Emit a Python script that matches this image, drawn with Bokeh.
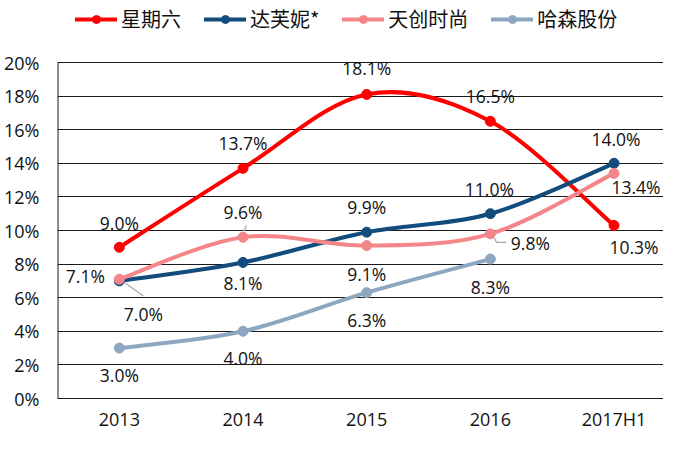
from bokeh.plotting import figure
from bokeh.models import ColumnDataSource, FixedTicker, PrintfTickFormatter, Legend, LegendItem
from bokeh.core.properties import value
from bokeh.embed import file_html
from bokeh.resources import INLINE

# ---- data ----
categories = ["2013", "2014", "2015", "2016", "2017H1"]
series_names = ["星期六", "达芙妮*", "天创时尚", "哈森股份"]
xingqiliu = [9.0, 13.7, 18.1, 16.5, 10.3]
dafuni = [7.0, 8.1, 9.9, 11.0, 14.0]
tianchuang = [7.1, 9.6, 9.1, 9.8, 13.4]
hasen = [3.0, 4.0, 6.3, 8.3]
y_ticks = [0, 2, 4, 6, 8, 10, 12, 14, 16, 18, 20]
y_max = 20

# ---- style / layout ----
colors = ["#FF0000", "#124C7C", "#F4868A", "#8CA7BF"]
# label offsets in screen pixels (dx, dy; dy positive = down)
label_offsets = [
    [(0, -24), (0, -25), (0, -26), (0, -25), (20, 22)],
    [(24, 33), (0, 21), (0, -25), (-1, -25), (2, -24)],
    [(-34, -3), (0, -25), (0, 28), (40, 9), (22, 14)],
    [(0, 27), (0, 27), (0, 27), (0, 28)],
]
W, H = 663, 433
LEFT, BOTTOM = 57, 35
FRAME_H = H - BOTTOM            # frame reaches the top of the canvas (legend inside)
TOP_GRID = 62                   # pixel row of the 20% line
PX_Y = (FRAME_H - TOP_GRID) / y_max
X_END = 4.4
PX_X = (W - LEFT) / (X_END + 0.5)
TXT = "#111111"
FONT = "Open Sans"
AX = "#1a1a1a"

p = figure(width=W, height=H, x_range=(-0.5, X_END),
           y_range=(0, FRAME_H / PX_Y),
           output_backend="svg", toolbar_location=None,
           min_border_left=LEFT, min_border_right=0, min_border_top=0,
           min_border_bottom=BOTTOM)
p.outline_line_color = None
p.xgrid.visible = False
p.ygrid.ticker = FixedTicker(ticks=y_ticks)
p.ygrid.grid_line_color = AX
p.ygrid.grid_line_width = 1

p.yaxis.ticker = FixedTicker(ticks=y_ticks)
p.yaxis.formatter = PrintfTickFormatter(format="%d%%")
p.xaxis.ticker = FixedTicker(ticks=list(range(len(categories))))
p.xaxis.major_label_overrides = {i: c for i, c in enumerate(categories)}
for ax in (p.xaxis[0], p.yaxis[0]):
    ax.major_tick_line_color = None
    ax.minor_tick_line_color = None
    ax.major_tick_out = 0
    ax.major_tick_in = 0
    ax.minor_tick_out = 0
    ax.major_label_text_font = FONT
    ax.major_label_text_font_size = "18px"
    ax.major_label_text_color = TXT
p.xaxis.axis_line_color = AX
p.yaxis.axis_line_color = None
p.yaxis.major_label_standoff = 18
p.xaxis.major_label_standoff = 8

# left frame edge, only from 0% to 20%
p.segment(x0=[-0.5], y0=[0], x1=[-0.5], y1=[y_max], line_color=AX, line_width=2)


def bezier_source(ys):
    n = len(ys)
    xs = list(range(n))
    d = dict(x0=[], y0=[], x1=[], y1=[], cx0=[], cy0=[], cx1=[], cy1=[])
    for i in range(n - 1):
        a = i - 1 if i > 0 else i
        b = i + 2 if i + 2 < n else i + 1
        d["x0"].append(xs[i]); d["y0"].append(ys[i])
        d["x1"].append(xs[i + 1]); d["y1"].append(ys[i + 1])
        d["cx0"].append(xs[i] + (xs[i + 1] - xs[a]) / 6.0)
        d["cy0"].append(ys[i] + (ys[i + 1] - ys[a]) / 6.0)
        d["cx1"].append(xs[i + 1] - (xs[b] - xs[i]) / 6.0)
        d["cy1"].append(ys[i + 1] - (ys[b] - ys[i]) / 6.0)
    return ColumnDataSource(d)


all_series = [xingqiliu, dafuni, tianchuang, hasen]
items = []
for name, ys, col in zip(series_names, all_series, colors):
    src = bezier_source(ys)
    r1 = p.bezier(x0="x0", y0="y0", x1="x1", y1="y1", cx0="cx0", cy0="cy0",
                  cx1="cx1", cy1="cy1", source=src, line_color=col, line_width=4,
                  line_cap="round")
    r2 = p.scatter(x=list(range(len(ys))), y=ys, size=10, marker="circle",
                   fill_color=col, line_color=col)
    items.append(LegendItem(label=name, renderers=[r1, r2]))

# leader lines (gray) from points toward labels
LEAD = "#A6A6A6"
def leader(xi, yv, pts):
    p.line(x=[xi + dx / PX_X for dx, dy in pts], y=[yv - dy / PX_Y for dx, dy in pts],
           line_color=LEAD, line_width=1.2)

leader(0, dafuni[0], [(6, 2), (24, 15)])
leader(1, tianchuang[1], [(1, -6), (3.5, -12)])
leader(3, tianchuang[3], [(4, 4), (6, 8.5), (16, 8.5)])

# data labels
for ys, offs in zip(all_series, label_offsets):
    src = ColumnDataSource(dict(
        x=list(range(len(ys))), y=ys, t=[f"{v:.1f}%" for v in ys],
        dx=[o[0] for o in offs], dy=[o[1] for o in offs]))
    p.text(x="x", y="y", text="t", x_offset="dx", y_offset="dy", source=src,
           text_align="center", text_baseline="middle", text_font=value(FONT),
           text_font_size="17.5px", text_color=TXT)

legend = Legend(items=items, orientation="horizontal", location=(18, 365),
                glyph_width=42, glyph_height=20, label_standoff=4, spacing=23,
                padding=0, margin=0, border_line_color=None, background_fill_alpha=0,
                label_text_font="Noto Sans CJK SC", label_text_font_size="20px",
                label_text_color=TXT, label_height=20)
p.add_layout(legend)

open("out.html", "w").write(file_html(p, INLINE))
